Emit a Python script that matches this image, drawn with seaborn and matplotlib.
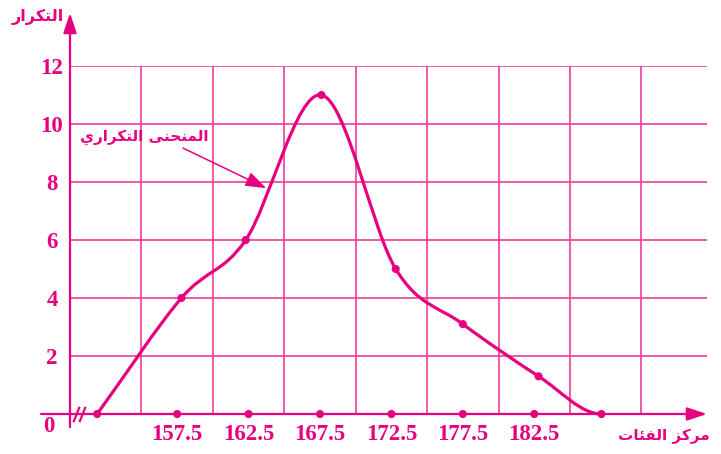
import numpy as np
import pandas as pd
import matplotlib
matplotlib.use("Agg")
import matplotlib.pyplot as plt
from matplotlib.path import Path
from matplotlib.patches import PathPatch
import seaborn as sns

# ---------------- data ----------------
point_x = [151.9, 157.8, 162.3, 167.6, 172.8, 177.5, 182.8, 187.2]   # curve points (as drawn)
point_y = [0, 4, 6, 11, 5, 3.1, 1.3, 0]                             # frequencies
class_mid = [157.5, 162.5, 167.5, 172.5, 177.5, 182.5]              # labelled class midpoints
class_lab = ["157.5", "162.5", "167.5", "172.5", "177.5", "182.5"]
y_ticks = [2, 4, 6, 8, 10, 12]
y_lab = ["2", "4", "6", "8", "10", "12"]
x_grid = [155, 160, 165, 170, 175, 180, 185, 190]

ylabel_txt = "التكرار"
xlabel_txt = "مركز الفئات"
curve_txt = "المنحنى التكراري"

# ---------------- Arabic shaping (presentation forms) ----------------
AR = {
    'ا': ('\uFE8D', '\uFE8E', None, None),
    'ل': ('\uFEDD', '\uFEDE', '\uFEDF', '\uFEE0'),
    'ت': ('\uFE95', '\uFE96', '\uFE97', '\uFE98'),
    'ك': ('\uFED9', '\uFEDA', '\uFEDB', '\uFEDC'),
    'ر': ('\uFEAD', '\uFEAE', None, None),
    'ز': ('\uFEAF', '\uFEB0', None, None),
    'م': ('\uFEE1', '\uFEE2', '\uFEE3', '\uFEE4'),
    'ن': ('\uFEE5', '\uFEE6', '\uFEE7', '\uFEE8'),
    'ح': ('\uFEA1', '\uFEA2', '\uFEA3', '\uFEA4'),
    'ى': ('\uFEEF', '\uFEF0', '\uFBE8', '\uFBE9'),
    'ي': ('\uFEF1', '\uFEF2', '\uFEF3', '\uFEF4'),
    'ف': ('\uFED1', '\uFED2', '\uFED3', '\uFED4'),
    'ئ': ('\uFE89', '\uFE8A', '\uFE8B', '\uFE8C'),
}


def shape(s):
    out = []
    for i, c in enumerate(s):
        if c not in AR:
            out.append(c)
            continue
        prev = s[i - 1] if i > 0 else None
        nxt = s[i + 1] if i + 1 < len(s) else None
        jp = prev in AR and AR[prev][2] is not None
        jn = nxt in AR and AR[c][2] is not None
        f = AR[c]
        if jp and jn:
            g = f[3]
        elif jp:
            g = f[1]
        elif jn:
            g = f[2]
        else:
            g = f[0]
        out.append(g)
    return ''.join(reversed(out))


# ---------------- style ----------------
sns.set_theme(style="white")
plt.rcParams['font.family'] = ['DejaVu Sans']
MAG = '#E6007E'
GRID = '#EE3C9A'
NUMFONT = dict(family='Liberation Serif', weight='bold', size=16.5, color=MAG)
ARFONT = dict(family=['DejaVu Sans'], weight='bold', color=MAG)

W, H = 721, 454
fig = plt.figure(figsize=(W / 100, H / 100), dpi=100)
ax = fig.add_axes([70 / W, (H - 414) / H, (707 - 70) / W, (414 - 66) / H])
ax.set_xlim(150, 150 + 637 / (500 / 35))
ax.set_ylim(0, 12)
for s in ax.spines.values():
    s.set_visible(False)
ax.set_facecolor('white')

# grid
ax.set_xticks(x_grid)
ax.set_xticklabels([''] * len(x_grid))
ax.set_xticks(class_mid, minor=True)
ax.set_xticklabels(class_lab, minor=True, fontdict=NUMFONT)
ax.set_yticks(y_ticks)
ax.set_yticklabels(y_lab, fontdict=NUMFONT)
for lab in ax.get_yticklabels():
    lab.set_ha('center')
ax.tick_params(axis='both', which='both', length=0)
ax.tick_params(axis='y', pad=13)
ax.tick_params(axis='x', which='minor', pad=7.5)
ax.grid(True, which='major', color=GRID, lw=1.2)

# axes with arrows
ax.annotate('', xy=(150, 13.83), xytext=(150, -0.45), xycoords='data',
            arrowprops=dict(arrowstyle='-|>,head_length=0.6,head_width=0.2',
                            color=MAG, lw=1.6, mutation_scale=20, shrinkA=0, shrinkB=0),
            annotation_clip=False)
ax.annotate('', xy=(194.59, 0), xytext=(147.97, 0), xycoords='data',
            arrowprops=dict(arrowstyle='-|>,head_length=0.6,head_width=0.2',
                            color=MAG, lw=1.6, mutation_scale=20, shrinkA=0, shrinkB=0),
            annotation_clip=False)

# axis break marks
ax.plot([150.45, 150.85], [0, 0], linestyle='none', color=MAG,
        marker=[(-0.4, -1), (0.4, 1)], markersize=11, mew=1.6, clip_on=False)

# smooth frequency curve (Catmull-Rom -> cubic Bezier)
P = np.column_stack([point_x, point_y]).astype(float)
n = len(P)
T = np.zeros_like(P)
T[0] = P[1] - P[0]
T[-1] = np.array([P[-1, 0] - P[-2, 0], 0.0])
for i in range(1, n - 1):
    T[i] = (P[i + 1] - P[i - 1]) / 2
verts = [tuple(P[0])]
codes = [Path.MOVETO]
for i in range(n - 1):
    verts += [tuple(P[i] + T[i] / 3), tuple(P[i + 1] - T[i + 1] / 3), tuple(P[i + 1])]
    codes += [Path.CURVE4] * 3
ax.add_patch(PathPatch(Path(verts, codes), fill=False, edgecolor=MAG, lw=2.3,
                       clip_on=False, zorder=4, capstyle='round'))

df_pts = pd.DataFrame({'x': point_x, 'y': point_y})
sns.scatterplot(data=df_pts, x='x', y='y', ax=ax, color=MAG, s=34,
                edgecolor='none', zorder=5, clip_on=False, legend=False)
df_mid = pd.DataFrame({'x': class_mid, 'y': [0] * len(class_mid)})
sns.scatterplot(data=df_mid, x='x', y='y', ax=ax, color=MAG, s=34,
                edgecolor='none', zorder=5, clip_on=False, legend=False)
ax.set_xlabel('')
ax.set_ylabel('')

# origin label
fig.text(49 / W, 1 - 427 / H, '0', ha='center', va='center', **NUMFONT)

# axis titles
fig.text(38 / W, 1 - 17 / H, shape(ylabel_txt), ha='center', va='center', size=11.5, **ARFONT)
fig.text(664 / W, 1 - 436 / H, shape(xlabel_txt), ha='center', va='center', size=11, **ARFONT)

# curve annotation
ax.annotate(shape(curve_txt), xy=(163.73, 7.79), xytext=(155.19, 9.55),
            ha='center', va='center', fontsize=11, **ARFONT,
            arrowprops=dict(arrowstyle='-|>,head_length=0.7,head_width=0.25',
                            color=MAG, lw=1.1, mutation_scale=18,
                            shrinkA=0, shrinkB=0, relpos=(0.75, 0.0)),
            annotation_clip=False)

fig.savefig('out.png', dpi=100, facecolor='white')
